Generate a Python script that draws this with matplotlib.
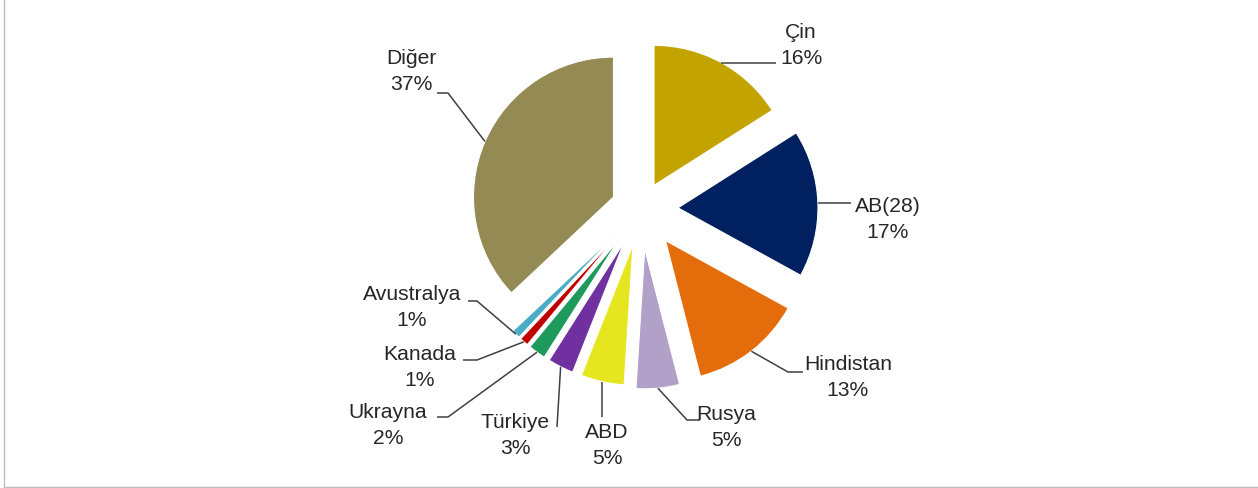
import matplotlib
matplotlib.use('Agg')
import matplotlib.pyplot as plt
import numpy as np

# ---- data ----
categories = ['Çin', 'AB(28)', 'Hindistan', 'Rusya', 'ABD', 'Türkiye',
              'Ukrayna', 'Kanada', 'Avustralya', 'Diğer']
shares = [16, 17, 13, 5, 5, 3, 2, 1, 1, 37]
colors = ['#C3A300', '#002060', '#E46C0A', '#B1A0C7', '#E6E620', '#7030A0',
          '#1E9A5C', '#C00000', '#4BACC6', '#948A54']

# ---- layout (pixel coordinates, y down) ----
W, H = 1258, 488
pie_center = (641, 209)
pie_radius = 140
explode_px = [27, 37, 40, 40, 37, 37, 37, 37, 37, 30]
# label block: centre x, centre y of first line
label_pos = [(801, 32), (888, 206), (848, 364), (726, 414), (607, 432),
             (515, 422), (388, 413), (420, 355), (412, 295), (411, 58)]
# leader: optional elbow point, end point (None -> keep start coordinate)
leader_elbow = [None, None, (788, 372), (687, 420), None,
                None, (448, 417), (477, 360), (477, 301), (448, 93)]
leader_end = [(776, None), (851, None), (803, 372), (700, 420), (None, 417),
              (557, 427), (437, 417), (463, 360), (468, 301), (437, 93)]

plt.rcParams['font.family'] = ['Liberation Sans', 'DejaVu Sans']

fig = plt.figure(figsize=(W / 100, H / 100), dpi=100)
ax = fig.add_axes([0, 0, 1, 1])


def Y(y):
    return H - y


wedges, _ = ax.pie(shares, colors=colors, startangle=90, counterclock=False,
                   radius=pie_radius, center=(pie_center[0], Y(pie_center[1])),
                   explode=explode_px,
                   wedgeprops=dict(linewidth=0.8, edgecolor='white'))
ax.set_xlim(0, W)
ax.set_ylim(0, H)
ax.set_aspect('equal')
ax.axis('off')

line_col = '#404040'
txt_col = '#262626'
fs = 15.2
for i, w in enumerate(wedges):
    th = np.deg2rad(0.5 * (w.theta1 + w.theta2))
    sx = w.center[0] + w.r * np.cos(th)
    sy = w.center[1] + w.r * np.sin(th)
    xs, ys = [sx], [sy]
    if leader_elbow[i] is not None:
        xs.append(leader_elbow[i][0])
        ys.append(Y(leader_elbow[i][1]))
    ex, ey = leader_end[i]
    xs.append(sx if ex is None else ex)
    ys.append(sy if ey is None else Y(ey))
    ax.plot(xs, ys, color=line_col, lw=1.1, solid_capstyle='butt')
    lx, ly = label_pos[i]
    ax.text(lx, Y(ly), categories[i], ha='center', va='center',
            fontsize=fs, color=txt_col)
    ax.text(lx, Y(ly + 26), f'{shares[i]}%', ha='center', va='center',
            fontsize=fs, color=txt_col)

# frame of the chart area
ax.plot([4, 4], [Y(0), Y(487)], color='#BFBFBF', lw=1)
ax.plot([4, W], [Y(487), Y(487)], color='#BFBFBF', lw=1)

fig.savefig('out.png', dpi=100, facecolor='white')
